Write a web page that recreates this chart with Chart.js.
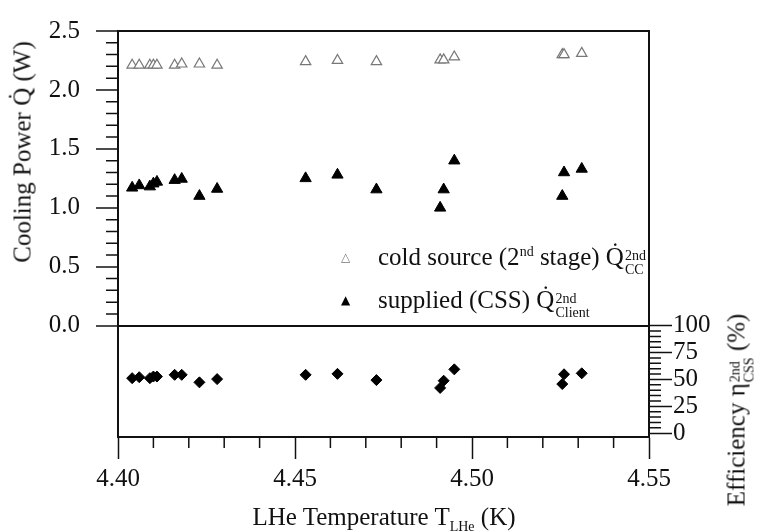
<!DOCTYPE html>
<html>
<head>
<meta charset="utf-8">
<script src="https://cdn.jsdelivr.net/npm/chart.js@4"></script>
<style>
  html, body { margin: 0; padding: 0; background: #fff; }
  #wrap { position: relative; width: 761px; height: 532px; font-family: 'Liberation Serif', 'Times New Roman', serif; color: #111; }
  .lbl { position: absolute; white-space: nowrap; font-size: 25px; line-height: 1; }
  .ss { display: inline-flex; flex-direction: column; font-size: 14px; line-height: 1.0; vertical-align: 5px; margin-left: 1px; }
  sup, sub { font-size: 14px; line-height: 0; }
  .mk { position: absolute; font-family: 'DejaVu Sans', sans-serif; font-size: 12px; line-height: 12px; }
</style>
</head>
<body>
<div id="wrap">
  <canvas id="chart"></canvas>
  <div class="lbl" style="left:22px; top:152px; transform: translate(-50%,-50%) rotate(-90deg);">Cooling Power Q&#775; (W)</div>
  <div class="lbl" style="left:384px; top:516px; transform: translate(-50%,-50%);">LHe Temperature T<sub>LHe</sub> (K)</div>
  <div class="lbl" style="left:740px; top:410px; transform: translate(-50%,-50%) rotate(-90deg);">Efficiency &#951;<span class="ss"><span>2nd</span><span>CSS</span></span> (%)</div>
  <div class="mk" style="left:341px; top:251px; color:#777">&#9651;</div>
  <div class="lbl" style="left:378px; top:244px;">cold source (2<sup>nd</sup> stage) Q&#775;<span class="ss"><span>2nd</span><span>CC</span></span></div>
  <div class="mk" style="left:341px; top:294px; color:#000">&#9650;</div>
  <div class="lbl" style="left:378px; top:287px;">supplied (CSS) Q&#775;<span class="ss"><span>2nd</span><span>Client</span></span></div>
</div>
<script>
// LHe temperature (K)
var temps = [4.404, 4.406, 4.409, 4.410, 4.411, 4.416, 4.418, 4.423, 4.428, 4.453, 4.462, 4.473, 4.491, 4.492, 4.495, 4.5255, 4.526, 4.531];
// cooling power of the cold source, 2nd stage (W)
var coldSource = [2.21, 2.21, 2.21, 2.21, 2.21, 2.21, 2.22, 2.22, 2.21, 2.24, 2.25, 2.24, 2.255, 2.255, 2.28, 2.30, 2.30, 2.31];
// supplied cooling power, CSS client (W)
var supplied = [1.17, 1.19, 1.18, 1.205, 1.22, 1.235, 1.245, 1.10, 1.16, 1.25, 1.28, 1.155, 1.00, 1.155, 1.40, 1.10, 1.30, 1.33];
// efficiency (%)
var efficiency = [51.2, 52.1, 51.2, 52.7, 52.7, 54.3, 54.3, 47.3, 50.3, 54.3, 55.2, 49.4, 42.1, 48.8, 59.4, 45.7, 54.8, 55.7];

var xTicks = [4.40, 4.45, 4.50, 4.55];
var yTicks = [0, 0.5, 1.0, 1.5, 2.0, 2.5];
var effTicks = [0, 25, 50, 75, 100];

var ink = '#111';
var tickFont = { family: "'Liberation Serif', 'Times New Roman', serif", size: 25 };

function pts(ys) {
    return temps.map(function (t, i) { return { x: t, y: ys[i] }; });
}

// kratke vedlejsi carky na osach
var minorTicks = {
    id: 'minorTicks',
    afterDraw: function (chart) {
        var c = chart.ctx, a = chart.chartArea;
        var sx = chart.scales.x, sy = chart.scales.y, sy2 = chart.scales.y2;
        c.save();
        c.strokeStyle = ink;
        c.lineWidth = 1.5;
        c.beginPath();
        for (var i = 1; i < 15; i++) {
            if (i % 5 === 0) continue;
            var px = sx.getPixelForValue(4.40 + i * 0.01);
            c.moveTo(px, a.bottom);
            c.lineTo(px, a.bottom + 11);
        }
        for (var j = 1; j < 25; j++) {
            if (j % 5 === 0) continue;
            var py = sy.getPixelForValue(j * 0.1);
            c.moveTo(a.left - 12, py);
            c.lineTo(a.left, py);
        }
        for (var k = 1; k < 20; k++) {
            if (k % 5 === 0) continue;
            var py2 = sy2.getPixelForValue(k * 5);
            c.moveTo(a.right, py2);
            c.lineTo(a.right + 12, py2);
        }
        c.stroke();
        c.restore();
    }
};

var ctx = document.getElementById('chart');
var myChart = new Chart(ctx, {
    type: 'scatter',
    data: {
        datasets: [{
            label: 'cold source (2nd stage)',
            data: pts(coldSource),
            yAxisID: 'y',
            pointStyle: 'triangle',
            pointRadius: 6,
            backgroundColor: '#fff',
            borderColor: '#777',
            borderWidth: 1.2
        }, {
            label: 'supplied (CSS)',
            data: pts(supplied),
            yAxisID: 'y',
            pointStyle: 'triangle',
            pointRadius: 6.5,
            backgroundColor: '#000',
            borderColor: '#000',
            borderWidth: 1
        }, {
            label: 'Efficiency',
            data: pts(efficiency),
            yAxisID: 'y2',
            pointStyle: 'rectRot',
            pointRadius: 5.5,
            backgroundColor: '#000',
            borderColor: '#000',
            borderWidth: 1
        }]
    },
    options: {
        responsive: true,
        maintainAspectRatio: false,
        animation: false,
        layout: { padding: 0 },
        plugins: {
            legend: { display: false },
            tooltip: { enabled: false }
        },
        scales: {
            x: {
                type: 'linear',
                position: 'bottom',
                min: 4.40,
                max: 4.55,
                afterBuildTicks: function (s) { s.ticks = xTicks.map(function (v) { return { value: v }; }); },
                afterFit: function (s) { s.height = 95; },
                ticks: {
                    callback: function (v) { return v.toFixed(2); },
                    font: tickFont, color: ink, padding: 5, maxRotation: 0, autoSkip: false
                },
                grid: { drawOnChartArea: false, tickLength: 22, tickWidth: 1.5, tickColor: ink },
                border: { color: ink, width: 2 }
            },
            x2: {
                type: 'linear',
                position: 'top',
                min: 4.40,
                max: 4.55,
                afterFit: function (s) { s.height = 21; },
                ticks: { display: false },
                grid: { display: false },
                border: { display: true, color: ink, width: 2 }
            },
            y: {
                position: 'left',
                min: -0.9437,
                max: 2.5,
                afterBuildTicks: function (s) { s.ticks = yTicks.map(function (v) { return { value: v }; }); },
                afterFit: function (s) { s.width = 118; },
                ticks: {
                    callback: function (v) { return v.toFixed(1); },
                    font: tickFont, color: ink, padding: 16
                },
                grid: {
                    drawOnChartArea: true,
                    color: function (c) { return c.tick && c.tick.value === 0 ? ink : 'rgba(0,0,0,0)'; },
                    lineWidth: 2,
                    tickLength: 22, tickWidth: 1.5, tickColor: ink
                },
                border: { color: ink, width: 2 }
            },
            y2: {
                position: 'right',
                min: -3.6,
                max: 374.5,
                afterBuildTicks: function (s) { s.ticks = effTicks.map(function (v) { return { value: v }; }); },
                afterFit: function (s) { s.width = 112; },
                ticks: {
                    callback: function (v) { return String(v); },
                    font: tickFont, color: ink, padding: 1
                },
                grid: { drawOnChartArea: false, tickLength: 23, tickWidth: 1.5, tickColor: ink },
                border: { color: ink, width: 2 }
            }
        }
    },
    plugins: [minorTicks]
});
</script>
</body>
</html>
